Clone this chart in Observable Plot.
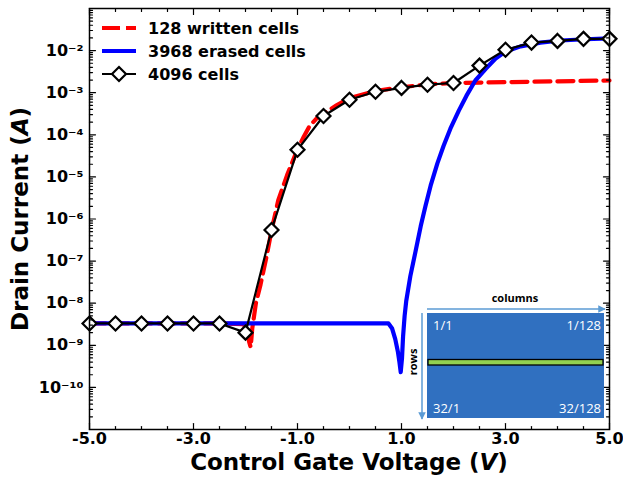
<!DOCTYPE html>
<html><head><meta charset="utf-8">
<script src="https://cdn.jsdelivr.net/npm/d3@7"></script>
<script src="https://cdn.jsdelivr.net/npm/@observablehq/plot@0.6"></script>
<style>html,body{margin:0;padding:0;background:#fff;} #chart{width:623px;height:480px;}</style>
</head><body><div id="chart"></div>
<script>
// ---- data ----
const seriesNames = ["128 written cells", "3968 erased cells", "4096 cells"];
const writtenV = [-5,-3.5,-2.5,-2.05,-1.97,-1.93,-1.9,-1.87,-1.8,-1.71,-1.6,-1.5,-1.37,-1.2,-1.0,-0.88,-0.77,-0.64,-0.5,-0.25,0,0.5,1.0,1.5,2.0,2.5,3.0,4.0,5.0];
const writtenI = [3.3e-9,3.3e-9,3.3e-9,3.2e-9,2.2e-9,1.2e-9,9e-10,2.5e-9,1.0e-8,2.8e-8,1.2e-7,5.3e-7,2.8e-6,1.1e-5,4.5e-5,9e-5,1.6e-4,2.4e-4,3.2e-4,5e-4,7.4e-4,1.1e-3,1.35e-3,1.58e-3,1.7e-3,1.74e-3,1.78e-3,1.86e-3,1.95e-3];
const erasedV = [-5,-3,-1,0,0.5,0.75,0.82,0.88,0.93,0.96,0.985,1.01,1.03,1.06,1.09,1.17,1.27,1.37,1.46,1.56,1.69,1.81,1.94,2.10,2.25,2.42,2.62,2.81,3.0,3.29,3.67,4.06,4.54,5.0];
const erasedI = [3.3e-9,3.3e-9,3.3e-9,3.3e-9,3.3e-9,3.3e-9,2.5e-9,1.4e-9,7.1e-10,4e-10,2.3e-10,5e-10,1.6e-9,5e-9,1.1e-8,4.4e-8,1.7e-7,6.8e-7,2e-6,6.2e-6,2.1e-5,5.5e-5,1.4e-4,3.7e-4,8.5e-4,1.95e-3,3.7e-3,6.5e-3,9.5e-3,1.26e-2,1.55e-2,1.74e-2,1.86e-2,1.95e-2];
const allV = [-5,-4.5,-4,-3.5,-3,-2.5,-2,-1.5,-1,-0.5,0,0.5,1,1.5,2,2.5,3,3.5,4,4.5,5];
const allI = [3.3e-9,3.3e-9,3.3e-9,3.3e-9,3.3e-9,3.3e-9,2.0e-9,5.5e-7,4.4e-5,2.8e-4,6.8e-4,1.05e-3,1.3e-3,1.55e-3,1.7e-3,4.4e-3,1.05e-2,1.55e-2,1.7e-2,1.9e-2,1.9e-2];
const xTickValues = [-5,-3,-1,1,3,5];
const yTickValues = [1e-10,1e-9,1e-8,1e-7,1e-6,1e-5,1e-4,1e-3,1e-2];
const insetLabels = ["1/1","1/128","32/1","32/128"];
const xTitle = ["Control Gate Voltage (", "V", ")"];
const yTitle = ["Drain Current (", "A", ")"];

const toRows = (xs, ys) => xs.map((v, i) => ({v, i: ys[i]}));
const written = toRows(writtenV, writtenI);
const erased = toRows(erasedV, erasedI);
const all = toRows(allV, allI);

// tick positions
const xMinor = d3.range(-5, 5.001, 0.5).filter(v => !xTickValues.some(t => Math.abs(t - v) < 1e-9));
const yMajorAll = d3.range(-11, 0).map(k => Math.pow(10, k));
const yMinor = [];
for (let k = -11; k <= -2; k++) for (let m = 2; m <= 9; m++) yMinor.push(m * Math.pow(10, k));

const sup = s => s.replace(/[-0-9]/g, c => ({"-":"⁻","0":"⁰","1":"¹","2":"²","3":"³","4":"⁴","5":"⁵","6":"⁶","7":"⁷","8":"⁸","9":"⁹"})[c]);
const tickShape = {draw(ctx, l) { ctx.moveTo(0, 0); ctx.lineTo(0, -l); }};

const tickMarks = [];
for (const [vals, len] of [[xTickValues, 6], [xMinor, 3]]) {
  tickMarks.push(Plot.vector(vals, {x: d => d, frameAnchor: "bottom", rotate: 0, length: len, anchor: "start", shape: tickShape, stroke: "black", strokeWidth: 1.2}));
  tickMarks.push(Plot.vector(vals, {x: d => d, frameAnchor: "top", rotate: 180, length: len, anchor: "start", shape: tickShape, stroke: "black", strokeWidth: 1.2}));
}
for (const [vals, len] of [[yMajorAll, 6], [yMinor, 3]]) {
  tickMarks.push(Plot.vector(vals, {y: d => d, frameAnchor: "left", rotate: 90, length: len, anchor: "start", shape: tickShape, stroke: "black", strokeWidth: 1.2}));
  tickMarks.push(Plot.vector(vals, {y: d => d, frameAnchor: "right", rotate: -90, length: len, anchor: "start", shape: tickShape, stroke: "black", strokeWidth: 1.2}));
}

const plot = Plot.plot({
  width: 623, height: 480,
  marginLeft: 89, marginRight: 14, marginTop: 8, marginBottom: 51,
  x: {domain: [-5, 5]},
  y: {type: "log", domain: [1e-11, 1e-1]},
  style: {background: "white", fontFamily: "'DejaVu Sans', sans-serif", fontWeight: "bold", fontSize: "16px", color: "black"},
  marks: [
    Plot.line(written, {x: "v", y: "i", stroke: "#ff0000", strokeWidth: 4.2, strokeDasharray: "16,7"}),
    Plot.line(erased, {x: "v", y: "i", stroke: "#0000ff", strokeWidth: 4.2}),
    Plot.line(all, {x: "v", y: "i", stroke: "black", strokeWidth: 2.2}),
    Plot.dot(all, {x: "v", y: "i", symbol: "diamond2", r: 6.3, fill: "white", stroke: "black", strokeWidth: 2.2}),
    ...tickMarks,
    Plot.axisX({ticks: xTickValues, tickSize: 0, tickPadding: 3, tickFormat: d => d.toFixed(1), label: null}),
    Plot.axisY({ticks: yTickValues, tickSize: 0, tickPadding: 6, tickFormat: d => "10" + sup(String(Math.round(Math.log10(d)))), label: null}),
    Plot.frame({stroke: "black", strokeWidth: 1.5})
  ]
});
document.getElementById("chart").appendChild(plot);

// ---- annotations: titles, legend, inset ----
const svg = d3.select(plot);
const font = "'DejaVu Sans', sans-serif";
const xt = svg.append("text").attr("x", 349).attr("y", 470).attr("text-anchor", "middle")
  .style("font", `bold 23px ${font}`).attr("fill", "black");
xt.append("tspan").text(xTitle[0]);
xt.append("tspan").style("font-style", "italic").text(xTitle[1]);
xt.append("tspan").text(xTitle[2]);
const yt = svg.append("text").attr("transform", "translate(28,219) rotate(-90)").attr("text-anchor", "middle")
  .style("font", `bold 23px ${font}`).attr("fill", "black");
yt.append("tspan").text(yTitle[0]);
yt.append("tspan").style("font-style", "italic").text(yTitle[1]);
yt.append("tspan").text(yTitle[2]);

// legend
const leg = svg.append("g");
const rowsY = [28, 51, 74];
leg.append("line").attr("x1", 102).attr("x2", 136).attr("y1", rowsY[0]).attr("y2", rowsY[0])
  .attr("stroke", "#ff0000").attr("stroke-width", 4.2).attr("stroke-dasharray", "18,6");
leg.append("line").attr("x1", 102).attr("x2", 136).attr("y1", rowsY[1]).attr("y2", rowsY[1])
  .attr("stroke", "#0000ff").attr("stroke-width", 4.2);
leg.append("line").attr("x1", 102).attr("x2", 136).attr("y1", rowsY[2]).attr("y2", rowsY[2])
  .attr("stroke", "black").attr("stroke-width", 2.2);
leg.append("path").attr("d", d3.symbol(d3.symbolDiamond2, Math.PI * 6.3 * 6.3)())
  .attr("transform", `translate(119,${rowsY[2]})`).attr("fill", "white").attr("stroke", "black").attr("stroke-width", 2.2);
seriesNames.forEach((n, k) => {
  leg.append("text").attr("x", 148).attr("y", rowsY[k]).attr("dy", "0.36em").attr("text-anchor", "start")
    .style("font", `bold 16px ${font}`).attr("fill", "black").text(n);
});

// inset diagram
const ins = svg.append("g");
const defs = svg.append("defs");
defs.append("marker").attr("id", "ah").attr("viewBox", "0 0 10 10").attr("refX", 9).attr("refY", 5)
  .attr("markerWidth", 5).attr("markerHeight", 5).attr("orient", "auto")
  .append("path").attr("d", "M0,0L10,5L0,10z").attr("fill", "#5b9bd5");
ins.append("rect").attr("x", 427).attr("y", 313).attr("width", 177).attr("height", 105).attr("fill", "#3070c0");
ins.append("rect").attr("x", 428).attr("y", 359.5).attr("width", 175).attr("height", 5.5)
  .attr("fill", "#92d050").attr("stroke", "black").attr("stroke-width", 1.3);
ins.append("line").attr("x1", 427).attr("x2", 605).attr("y1", 309).attr("y2", 309)
  .attr("stroke", "#5b9bd5").attr("stroke-width", 1.5).attr("marker-end", "url(#ah)");
ins.append("line").attr("x1", 422).attr("x2", 422).attr("y1", 313).attr("y2", 419)
  .attr("stroke", "#5b9bd5").attr("stroke-width", 1.5).attr("marker-end", "url(#ah)");
ins.append("text").attr("x", 515).attr("y", 302).attr("text-anchor", "middle")
  .style("font", "bold 11px 'Open Sans', sans-serif").attr("fill", "black").text("columns");
ins.append("text").attr("transform", "translate(417,362) rotate(-90)").attr("text-anchor", "middle")
  .style("font", "bold 11px 'Open Sans', sans-serif").attr("fill", "black").text("rows");
const lab = (t, x, y, a) => ins.append("text").attr("x", x).attr("y", y).attr("text-anchor", a)
  .style("font", "normal 13px 'Open Sans', sans-serif").attr("fill", "white").text(t);
lab(insetLabels[0], 433, 330, "start");
lab(insetLabels[1], 601, 330, "end");
lab(insetLabels[2], 433, 413, "start");
lab(insetLabels[3], 601, 413, "end");
</script>
</body></html>
